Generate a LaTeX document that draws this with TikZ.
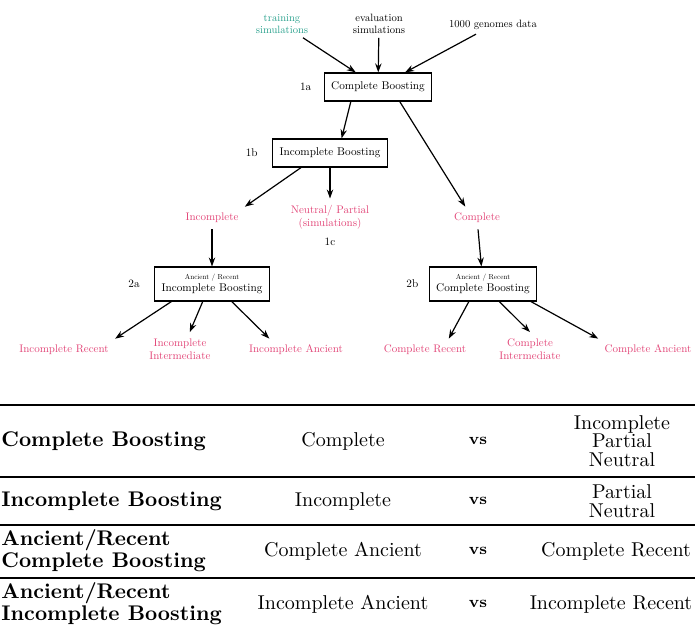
\documentclass[tikz,border=0pt]{standalone}
\usepackage{fontspec}
\usepackage{xcolor}
\usepackage{tikz}
\usetikzlibrary{arrows.meta, positioning, calc}

\newfontfamily\diagrm{lmroman10-regular.otf}
\definecolor{simred}{RGB}{226,70,120}
\definecolor{simteal}{RGB}{40,160,140}

\begin{document}
\begin{tikzpicture}[
  x=0.5pt, y=-0.5pt,
  boost/.style={draw, line width=0.6pt, inner xsep=3.5pt, minimum height=14pt,
                font=\diagrm\fontsize{5.6}{6.4}\selectfont},
  boosttwo/.style={boost, align=center, minimum height=16.5pt},
  src/.style={align=center, font=\diagrm\fontsize{5.3}{5.8}\selectfont, inner sep=2pt},
  cls/.style={align=center, text=simred, font=\diagrm\fontsize{5.5}{6.6}\selectfont, inner sep=3pt},
  tag/.style={font=\diagrm\fontsize{5.6}{6}\selectfont, inner sep=1pt},
  arrow/.style={-{Stealth[length=4.5pt, width=3.2pt]}, line width=0.6pt},
  rowhead/.style={anchor=west, align=left, inner sep=0pt,
                  font=\fontsize{10.6}{9}\selectfont\bfseries},
  cell/.style={align=center, inner sep=0pt, font=\fontsize{10}{9.3}\selectfont},
  rule/.style={line width=0.7pt}
]
  \useasboundingbox (0,0) rectangle (695,632);
  \clip (0,0) rectangle (695,632);

  % data sources
  \node[src, text=simteal] (train) at (282,24) {training\\simulations};
  \node[src] (evals) at (379,24) {evaluation\\simulations};
  \node[src] (genomes) at (493,25) {1000 genomes data};

  % boosting stages
  \node[boost] (cb) at (378,87) {Complete Boosting};
  \node[boost] (ib) at (330,153) {Incomplete Boosting};
  \node[boosttwo] (ia) at (212,284) {{\fontsize{3.6}{4.2}\selectfont Ancient / Recent}\\Incomplete Boosting};
  \node[boosttwo] (ca) at (483,284) {{\fontsize{3.6}{4.2}\selectfont Ancient / Recent}\\Complete Boosting};

  \node[tag, left=5pt of cb] {1a};
  \node[tag, left=6pt of ib] {1b};
  \node[tag, left=6pt of ia] {2a};
  \node[tag, left=4pt of ca] {2b};

  % classes
  \node[cls] (inc) at (212,218) {Incomplete};
  \node[cls] (np) at (330,217) {Neutral/ Partial\\(simulations)};
  \node[tag, below=0pt of np] {1c};
  \node[cls] (comp) at (477,218) {Complete};

  \node[cls] (ir) at (64,350) {Incomplete Recent};
  \node[cls] (iint) at (180,349) {Incomplete\\Intermediate};
  \node[cls] (ian) at (296,350) {Incomplete Ancient};
  \node[cls] (cr) at (425,350) {Complete Recent};
  \node[cls] (cint) at (530,349) {Complete\\Intermediate};
  \node[cls] (can) at (648,350) {Complete Ancient};

  \draw[arrow] (train) -- (cb);
  \draw[arrow] (evals) -- (cb);
  \draw[arrow] (genomes) -- (cb);

  \draw[arrow] ($(cb.south west)!0.25!(cb.south east)$) -- ($(ib.north west)!0.6!(ib.north east)$);
  \draw[arrow] ($(cb.south west)!0.7!(cb.south east)$) -- ($(comp.north west)!0.3!(comp.north east)$);
  \draw[arrow] ($(ib.south west)!0.25!(ib.south east)$) -- (inc.north east);
  \draw[arrow] (ib.south) -- (np.north);
  \draw[arrow] (inc) -- (ia);
  \draw[arrow] (comp) -- (ca);

  \draw[arrow] ($(ia.south west)!0.15!(ia.south east)$) -- (ir.north east);
  \draw[arrow] ($(ia.south west)!0.42!(ia.south east)$) -- (iint.60);
  \draw[arrow] ($(ia.south west)!0.67!(ia.south east)$) -- ($(ian.north west)!0.25!(ian.north east)$);
  \draw[arrow] ($(ca.south west)!0.37!(ca.south east)$) -- ($(cr.north west)!0.75!(cr.north east)$);
  \draw[arrow] ($(ca.south west)!0.65!(ca.south east)$) -- (cint.north);
  \draw[arrow] ($(ca.south west)!0.94!(ca.south east)$) -- (can.north west);

  % summary table
  \draw[rule] (0,405) -- (695,405);
  \draw[rule, line width=1.2pt] (0,477) -- (695,477);
  \draw[rule] (0,525) -- (695,525);
  \draw[rule] (0,578) -- (695,578);

  \node[rowhead] (h1) at (1,441) {Complete Boosting};
  \node[cell] (a1) at (343,441) {Complete};
  \node[cell, font=\fontsize{8}{9}\selectfont\bfseries] (v1) at (478,441) {vs};
  \node[cell] (b1) at (622,441) {Incomplete\\Partial\\Neutral};

  \node[rowhead] (h2) at (1,501) {Incomplete Boosting};
  \node[cell] (a2) at (343,501) {Incomplete};
  \node[cell, font=\fontsize{8}{9}\selectfont\bfseries] (v2) at (478,501) {vs};
  \node[cell] (b2) at (622,501) {Partial\\Neutral};

  \node[rowhead] (h3) at (1,551) {Ancient/Recent\\Complete Boosting};
  \node[cell] (a3) at (343,551) {Complete Ancient};
  \node[cell, font=\fontsize{8}{9}\selectfont\bfseries] (v3) at (478,551) {vs};
  \node[cell] (b3) at (616,551) {Complete Recent};

  \node[rowhead] (h4) at (1,604) {Ancient/Recent\\Incomplete Boosting};
  \node[cell] (a4) at (343,604) {Incomplete Ancient};
  \node[cell, font=\fontsize{8}{9}\selectfont\bfseries] (v4) at (478,604) {vs};
  \node[cell] (b4) at (611,604) {Incomplete Recent};
\end{tikzpicture}
\end{document}
